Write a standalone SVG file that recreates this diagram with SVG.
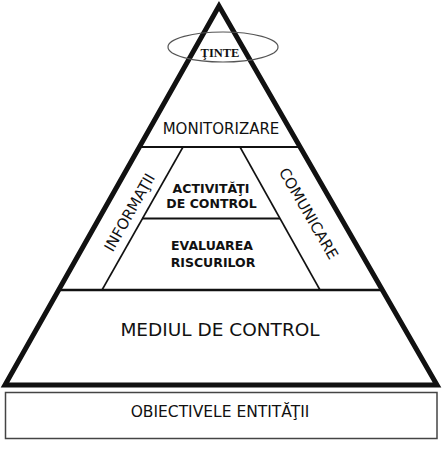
<svg xmlns="http://www.w3.org/2000/svg" width="443" height="454" viewBox="0 0 443 454">
<style>
.t{font-family:"DejaVu Sans",Verdana,sans-serif;fill:#111;text-anchor:middle}
.b{font-weight:bold}
.ln{stroke:#111;fill:none}
</style>
<rect width="443" height="454" fill="#fff"/>
<g id="connectors">
<polygon class="ln" points="219,6 5,385 437,385" stroke-width="5" stroke-linejoin="miter"/>
<line class="ln" x1="140" y1="147" x2="300" y2="147" stroke-width="2"/>
<line class="ln" x1="58" y1="290" x2="382" y2="290" stroke-width="2.5"/>
<line class="ln" x1="183" y1="147" x2="102" y2="290" stroke-width="1.6"/>
<line class="ln" x1="240" y1="147" x2="320" y2="290" stroke-width="1.6"/>
<line class="ln" x1="142" y1="218.5" x2="280" y2="218.5" stroke-width="2"/>
</g>
<g id="tinte">
<ellipse cx="223" cy="47" rx="55" ry="15" fill="none" stroke="#555" stroke-width="1.2"/>
<text class="t b" x="220" y="57" style="font-family:'Liberation Serif',serif" font-size="12.5">ŢINTE</text>
</g>
<g id="monitorizare">
<text class="t" x="221" y="134" font-size="15">MONITORIZARE</text>
</g>
<g id="activitati">
<text class="t b" x="211" y="193" font-size="12.5">ACTIVITĂŢI</text>
<text class="t b" x="211.5" y="207.5" font-size="12.5">DE CONTROL</text>
</g>
<g id="evaluarea">
<text class="t b" x="212" y="250" font-size="12.5">EVALUAREA</text>
<text class="t b" x="213" y="266.5" font-size="12.5">RISCURILOR</text>
</g>
<g id="informatii">
<text class="t" transform="translate(134,215) rotate(-60.5)" font-size="15">INFORMAŢII</text>
</g>
<g id="comunicare">
<text class="t" transform="translate(304,216) rotate(60)" font-size="15">COMUNICARE</text>
</g>
<g id="mediul">
<text class="t" x="220" y="336" font-size="18.5">MEDIUL DE CONTROL</text>
</g>
<g id="obiective">
<rect x="5.5" y="392.5" width="431.5" height="46" fill="none" stroke="#444" stroke-width="1.5"/>
<text class="t" x="220" y="417" font-size="15.5">OBIECTIVELE ENTITĂŢII</text>
</g>
</svg>
